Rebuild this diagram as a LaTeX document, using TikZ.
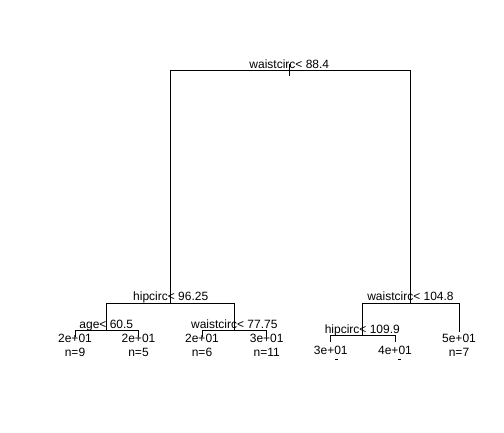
\documentclass[tikz,border=0pt]{standalone}
\usepackage{fontspec}
\setmainfont{Liberation Sans}
\usepackage{tikz}
\usetikzlibrary{positioning}
\tikzset{
	x=1pt, y=-1pt, % one unit is one pixel, y runs downwards
	branch/.style={line width=0.9pt, black}, % the lines of the tree
	split/.style={anchor=base, inner sep=0pt, font=\fontsize{12}{14}\selectfont}, % the split rules
	leaf/.style={anchor=base, inner sep=0pt, font=\fontsize{12}{14}\selectfont}, % the fitted values
}

\begin{document}
\begin{tikzpicture}
		\useasboundingbox (0,0) rectangle (504,432);

		% split points
		\coordinate (root) at (289.3,70.5);
		\coordinate (hip) at (170.7,303.3);
		\coordinate (wst) at (410.5,303.3);
		\coordinate (age) at (106.3,330.5);
		\coordinate (wstb) at (234.3,330.5);
		\coordinate (hipb) at (362.3,335.7);

		% ends of the leaves
		\coordinate (l1) at (75,336.7);
		\coordinate (l2) at (138.5,336.7);
		\coordinate (l3) at (202,336.7);
		\coordinate (l4) at (266.7,336.7);
		\coordinate (l5) at (459,332);
		\coordinate (l6) at (330.8,342);
		\coordinate (l7) at (395,342);

		\draw[branch] ([yshift=6.5pt]root) -- ([yshift=-5.5pt]root);
		\draw[branch] (hip) |- (root) -| (wst);
		\draw[branch] (age) |- (hip) -| (wstb);
		\draw[branch] (hipb) |- (wst) -| (l5);
		\draw[branch] (l1) |- (age) -| (l2);
		\draw[branch] (l3) |- (wstb) -| (l4);
		\draw[branch] (l6) |- (hipb) -| (l7);

		\node[split] (sroot) at ([yshift=2.5pt]root) {waistcirc< 88.4};
		\node[split] (ship) at ([yshift=2.5pt]hip) {hipcirc< 96.25};
		\node[split] (swst) at ([yshift=2.5pt]wst) {waistcirc< 104.8};
		\node[split] (sage) at ([yshift=2.5pt]age) {age< 60.5};
		\node[split] (swstb) at ([yshift=2.5pt]wstb) {waistcirc< 77.75};
		\node[split] (shipb) at ([yshift=2.5pt]hipb) {hipcirc< 109.9};

		\begin{scope}
			\clip (58.5,0) rectangle (504,432);
			\foreach \i/\val/\n in {1/2e+01/n=9, 2/2e+01/n=5, 3/2e+01/n=6, 4/3e+01/n=11, 5/5e+01/n=7}
			{
				\node[leaf] (v\i) at (l\i |- 0,342) {\val};
				\node[leaf] (n\i) at ([yshift=-14.5pt]v\i.base) {\n};
			}
		\end{scope}
		\node[leaf] (v6) at (l6 |- 0,354) {3e+01};
		\node[leaf] (v7) at (l7 |- 0,354) {4e+01};

		% what is left of the cut off counts
		\draw[branch] ([xshift=4.5pt,yshift=-5pt]v6.base) -- ([xshift=7.5pt,yshift=-5pt]v6.base);
		\draw[branch] ([xshift=2.5pt,yshift=-5pt]v7.base) -- ([xshift=5.5pt,yshift=-5pt]v7.base);

	\end{tikzpicture}
\end{document}
